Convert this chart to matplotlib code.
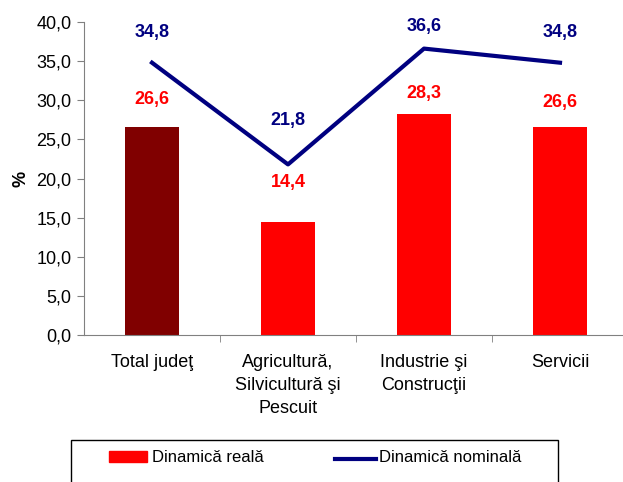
import matplotlib.pyplot as plt
import matplotlib.patches as mpatches
import matplotlib.lines as mlines
import numpy as np

plt.rcParams['font.family'] = ['Liberation Sans', 'DejaVu Sans']

categorii = ['Total judeţ', 'Agricultură,\nSilvicultură şi\nPescuit', 'Industrie şi\nConstrucţii', 'Servicii']
reala = [26.6, 14.4, 28.3, 26.6]
nominala = [34.8, 21.8, 36.6, 34.8]
culori_bare = ['#800000', '#FF0000', '#FF0000', '#FF0000']
# distanta etichetelor (pixeli) fata de punct, ca in original
dy_reala = [27, 40, 20, 24]
dy_nominala = [30, 44, 22, 30]

W, H = 623, 482
fig = plt.figure(figsize=(W / 100, H / 100), dpi=100)
# axa trece de marginea din dreapta, ca in original
ax = fig.add_axes([84 / W, 1 - 335 / H, (628 - 84) / W, (335 - 22) / H])

x = np.arange(len(categorii))
ax.bar(x, reala, width=0.4, color=culori_bare, zorder=2)
ax.plot(x, nominala, color='#000080', lw=3, zorder=3)

for i in range(len(x)):
    ax.annotate(f'{reala[i]:.1f}'.replace('.', ','), (x[i], reala[i]), xytext=(0, dy_reala[i]),
                textcoords='offset pixels', ha='center', va='center',
                color='#FF0000', fontweight='bold', fontsize=13)
    ax.annotate(f'{nominala[i]:.1f}'.replace('.', ','), (x[i], nominala[i]), xytext=(0, dy_nominala[i]),
                textcoords='offset pixels', ha='center', va='center',
                color='#000080', fontweight='bold', fontsize=13)

ax.set_xlim(-0.5, len(x) - 0.5)
ax.set_ylim(0, 40)
ax.set_yticks(np.arange(0, 40.1, 5))
ax.set_yticklabels([f'{v:.1f}'.replace('.', ',') for v in np.arange(0, 40.1, 5)], fontsize=13)
ax.set_xticks(x)
ax.set_xticklabels(categorii, fontsize=13, linespacing=1.45)
ax.set_xticks(np.arange(0.5, len(x) - 0.5, 1), minor=True)
ax.tick_params(axis='x', which='major', length=0, pad=14)
ax.tick_params(axis='x', which='minor', length=5, color='#808080')
ax.tick_params(axis='y', length=5, color='#808080', pad=4)
ax.set_ylabel('%', fontsize=13, fontweight='bold', labelpad=5)
for s in ['top', 'right']:
    ax.spines[s].set_visible(False)
for s in ['left', 'bottom']:
    ax.spines[s].set_color('#808080')

# cadrul legendei, taiat jos ca in original
fig.patches.append(mpatches.Rectangle((71 / W, -0.05), (558 - 71) / W, 0.05 + 1 - 440 / H,
                                      transform=fig.transFigure, fill=False,
                                      edgecolor='black', lw=1))
fig.patches.append(mpatches.Rectangle((109 / W, 1 - 462 / H), 38 / W, 11 / H,
                                      transform=fig.transFigure, color='#FF0000'))
fig.lines.append(mlines.Line2D([335 / W, 376 / W], [1 - 459 / H, 1 - 459 / H],
                               transform=fig.transFigure, color='#000080', lw=3))
fig.text(152 / W, 1 - 458 / H, 'Dinamică reală', fontsize=12, va='center')
fig.text(379 / W, 1 - 458 / H, 'Dinamică nominală', fontsize=12, va='center')

fig.savefig('out.png', dpi=100)
